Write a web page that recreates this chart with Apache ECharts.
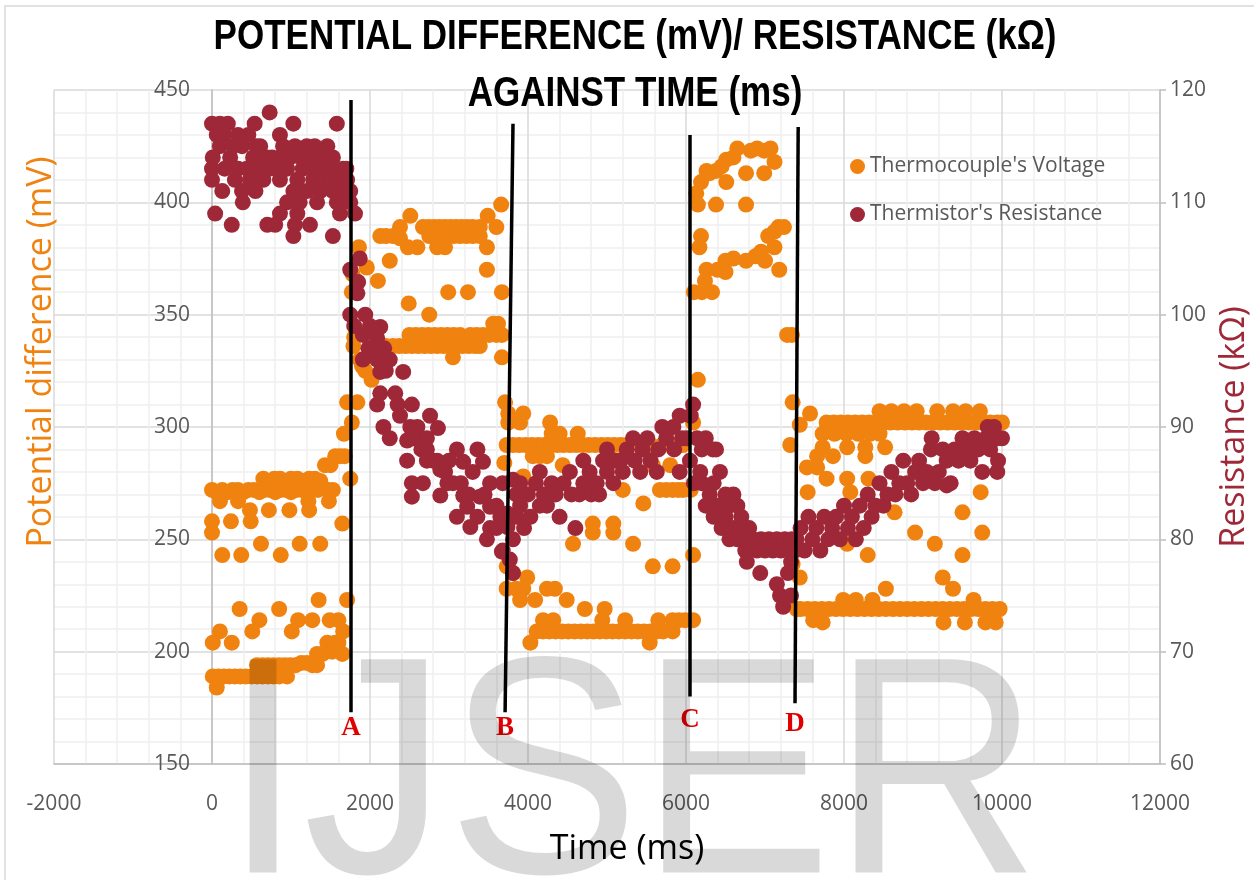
<!DOCTYPE html>
<html>
<head>
<meta charset="utf-8">
<script src="https://cdn.jsdelivr.net/npm/echarts@6.0.0/dist/echarts.min.js"></script>
<style>
  html, body { margin: 0; padding: 0; background: #fff; }
  #chart { width: 1254px; height: 880px; }
</style>
</head>
<body>
<div id="chart"></div>
<script>
// thermocouple voltage [time ms, mV]
var voltageBeforeA = [
  [0,272],[60,271],[130,272],[200,271],[260,272],[330,272],[400,271],[460,272],[530,272],[600,271],[660,272],[730,272],
  [800,271],[870,272],[940,272],[1000,271],[1070,272],[1140,272],[1200,271],[1270,272],[1340,272],[1400,273],[1470,272],[1530,272],
  [650,277],[720,276],[790,277],[860,277],[930,276],[1000,277],[1080,277],[1160,276],[1230,277],[1300,277],[1370,276],
  [1430,283],[1500,283],[1560,287],[1620,287],[1680,287],
  [100,267],[330,267],[1220,267],[1480,267],[480,263],[720,263],[980,263],[1230,263],
  [0,258],[240,258],[490,258],[1650,257],[0,253],[620,248],[1110,248],[1370,248],[130,243],[370,243],[870,243],
  [1350,223],[1710,223],[350,219],[850,219],[600,214],[1090,214],[1270,214],[1490,214],[1600,214],
  [100,209],[510,209],[1010,209],[1660,209],[10,204],[250,204],[1460,204],[1560,204],[1600,204],
  [1330,199],[1400,199],[1520,200],[1650,199],
  [570,194],[640,194],[710,194],[780,194],[850,194],[920,194],[990,194],[1060,194],[1130,195],[1200,195],[1270,194],[1330,194],
  [10,189],[80,189],[150,189],[220,189],[290,189],[360,189],[430,189],[500,189],[570,189],[640,189],[710,189],[780,189],[850,189],[950,189],
  [60,184]
];
var voltageAtoB = [
  [1670,297],[1710,311],[1770,302],[1750,277],[1770,360],[1790,336],[1780,368],[1840,311],[1870,330],[1900,327],[1860,380],
  [1960,371],[1940,325],[2020,321],[2100,365],[2250,374],[1800,340],[2000,340],[2100,338],[2200,336],
  [2130,385],[2200,385],[2290,385],[2380,384],[2380,389],[2510,394],[2480,380],[2600,380],
  [2670,389],[2740,389],[2810,389],[2880,389],[2950,389],[3020,389],[3090,389],[3160,389],[3230,389],[3300,389],[3390,389],[3600,389],
  [2750,385],[2820,385],[2900,385],[2980,385],[3060,385],[3140,385],[3220,385],[3300,385],[3390,385],
  [2850,380],[2950,380],[3480,380],[3490,394],[3660,399],[3480,370],
  [2990,360],[3240,360],[3670,360],[2490,355],[2750,350],[3560,346],[3620,346],
  [2290,336],[2370,336],[2450,336],[2530,336],[2610,336],[2690,336],[2770,336],[2850,336],[2930,336],[3010,336],[3090,336],
  [3170,336],[3250,336],[3330,336],[3390,336],
  [2500,341],[2580,341],[2660,341],[2740,341],[2820,341],[2900,341],[2980,341],[3060,341],[3140,341],[3270,341],[3350,341],
  [3430,341],[3510,341],[3600,341],[3670,341],[3050,331],[3670,331]
];
var voltageBtoC = [
  [3710,311],[3750,306],[3940,306],[3750,302],[3900,302],[4280,302],[4300,297],[4400,297],[4630,297],
  [3730,292],[3810,292],[3890,292],[3970,292],[4050,292],[4130,292],[4210,292],[4290,292],[4370,292],[4450,292],[4530,292],
  [4610,292],[4690,292],[4770,292],[4850,292],[4930,292],[5010,292],[5090,292],[5170,292],[5250,292],[5400,292],[5550,292],
  [5700,292],[5850,292],[5960,292],
  [4060,287],[4150,287],[4240,287],[3700,284],[4440,283],[5580,283],[5800,283],[3940,278],
  [5200,272],[5670,272],[5750,272],[5830,272],[5900,272],[5960,272],[6060,272],
  [5460,266],[4820,257],[5080,257],[4820,253],[5080,253],[4570,248],[5330,248],[6090,243],
  [5580,238],[5830,238],[3730,238],[3810,235],[3990,233],[3730,228],[3850,228],[3940,228],[4240,228],[4340,228],
  [3900,223],[4090,223],[4490,223],[4720,219],[4970,219],
  [4190,214],[4320,214],[4940,214],[5230,214],[5650,214],[5830,214],[5910,214],[5990,214],[6090,214],
  [4110,209],[4190,209],[4270,209],[4350,209],[4430,209],[4510,209],[4590,209],[4670,209],[4750,209],[4830,209],[4910,209],
  [4990,209],[5070,209],[5150,209],[5230,209],[5310,209],[5390,209],[5470,209],[5550,209],[5630,209],[5710,209],[5830,209],
  [4030,204],[5540,204],[6090,302],[6150,321]
];
var voltageCtoD = [
  [6130,404],[6150,399],[6190,409],[6260,414],[6300,413],[6380,414],[6450,416],[6510,419],[6600,420],[6650,424],[6820,423],
  [6900,424],[6990,423],[7070,424],[7120,418],[6510,409],[6760,413],[6990,413],[6380,399],[6760,399],
  [6190,385],[6170,380],[6260,370],[6240,365],[6100,360],[6200,360],[6330,360],[6400,370],[6500,374],[6500,369],[6600,375],
  [6760,374],[6880,376],[6950,378],[7000,374],[7040,385],[7120,387],[7170,389],[7240,389],[7120,380],[7180,370],
  [7280,341],[7340,341]
];
var voltageAfterD = [
  [7350,311],[7440,301],[7320,292],[7570,306],[7660,287],[7530,282],[7780,277],[7540,271],[7350,239],[7440,233],[7400,219],[7610,214],
  [7780,302],[7870,302],[7960,302],[8050,302],[8140,302],[8230,302],[8320,302],[8410,302],[8500,302],[8590,302],[8680,302],
  [8770,302],[8860,302],[8950,302],[9040,302],[9130,302],[9220,302],[9310,302],[9400,302],[9490,302],[9580,302],[9670,302],
  [9760,302],[9850,302],[9940,302],[10000,302],
  [8450,307],[8600,307],[8760,307],[8920,307],[9180,307],[9380,307],[9540,307],[9720,307],
  [7730,297],[7880,297],[8030,297],[8180,297],[8330,297],[8450,297],
  [7730,291],[8040,291],[8270,291],[8520,291],[7860,287],[8270,287],[7660,282],
  [8040,277],[8310,277],[9120,277],[8080,271],[9730,271],[8640,262],[9500,262],[8900,253],[9750,253],
  [8040,248],[9150,248],[8300,243],[9500,243],[9250,233],[8530,228],[9380,228],
  [7990,223],[8150,223],[8360,223],[9640,223],
  [7450,219],[7540,219],[7630,219],[7720,219],[7810,219],[7900,219],[7990,219],[8080,219],[8170,219],[8260,219],[8350,219],
  [8440,219],[8530,219],[8620,219],[8710,219],[8800,219],[8890,219],[8980,219],[9070,219],[9160,219],[9250,219],[9340,219],
  [9430,219],[9520,219],[9610,219],[9700,219],[9790,219],[9880,219],[9970,219],
  [7730,213],[9260,213],[9530,213],[9790,213],[9920,213]
];

// thermistor resistance [time ms, kΩ]
var resistanceBeforeA = [
  [0,117],[60,116],[100,117],[200,117],[540,117],[730,118],[1030,117],[1580,117],[860,116],[460,116],[150,116],[330,116],
  [100,115],[270,115],[380,115],[560,115],[610,115],[1200,115],[1300,115],[1460,115],[900,115],[1050,115],
  [10,114],[230,114],[520,114],[700,114],[760,114],[860,114],[990,114],[1250,114],[1370,114],[1420,114],[1530,114],[1120,114],
  [0,113],[160,113],[330,113],[440,113],[600,113],[730,113],[800,113],[950,113],[1150,113],[1250,113],[1370,113],[1500,113],[1660,113],[1700,113],
  [0,112],[290,112],[480,112],[650,112],[860,112],[1080,112],[1280,112],[1460,112],[1600,112],[1710,112],[560,112],
  [130,111],[380,111],[550,111],[1030,111],[1200,111],[1370,111],[1530,111],[1750,111],[1620,111],
  [390,110],[950,110],[1110,110],[1330,110],[1580,110],[1640,110],[1750,110],
  [40,109],[860,109],[1080,109],[1620,109],[1810,109],[250,108],[700,108],[800,108],[1050,108],[1240,108],[1030,107],[1530,107]
];
var resistanceAtoB = [
  [1870,105],[1750,104],[1850,102.9],[1840,101.9],[1750,100],[1940,100],[2130,98.9],[1910,98.2],[2000,99],[2090,97.9],
  [1800,99],[1980,97],[2050,98.5],[2180,97],
  [2100,96.8],[1910,96],[2090,96],[2250,96],[2200,95],[2130,94.9],[2420,94.9],[2130,93],[2320,93],[2090,92],[2350,92],
  [2530,92],[2380,91],[2760,91],[2170,90],[2510,90],[2600,90],[2860,89.9],[2250,89],[2550,89],[2720,89],[2470,88.8],
  [2650,88],[2720,88],[3100,88],[3360,88],[2470,87],[2720,87],[2800,87],[2850,87],[3000,87],[2890,86.2],[2950,86],
  [3180,86.9],[3430,86.9],[3300,86],[2530,85],[2670,85],[2980,85],[3050,85],[3150,85],[3520,85],[3680,85],[3810,85.3],
  [2530,83.8],[2890,83.9],[3180,83.9],[3250,84],[3390,83.8],[3450,84],[3600,83],[3230,82.9],[3520,82.9],[3100,82],
  [3360,82],[3650,82],[3740,82.3],[3270,81.1],[3520,81],[3600,81],[3740,81.1],[3480,80],[3810,80],[3680,79],
  [3670,78.9],[3770,78.2],[3810,77]
];
var resistanceBtoC = [
  [3850,84],[3850,82],[3900,85],[3900,83],[3950,81],[4000,84],[4030,82],[4100,85],[4150,86],[4150,83],[4200,84],[4240,83],
  [4300,85],[4350,84],[4400,82],[4450,85],[4530,86],[4550,84],[4600,81],[4650,84],[4700,87],[4700,85],[4780,86],[4800,84],
  [4870,85],[4900,84],[4950,87],[5000,88],[5000,86],[5080,85],[5100,87],[5170,87],[5200,86],[5250,88],[5330,89],[5350,87],
  [5420,86],[5450,88],[5510,89],[5550,87],[5630,86],[5650,88],[5700,90],[5750,89],[5840,90],[5850,88],[5920,91],[5920,86],
  [5950,89],[6010,89],[6050,87],[6060,91],[6090,92]
];
var resistanceCtoD = [
  [6140,89],[6200,88],[6250,89],[6340,88],[6380,88],[6430,86],[6180,86],[6300,84],[6100,85],[6200,85],[6350,85],[6500,84],
  [6250,83],[6400,83],[6550,83],[6600,84],[6650,83],[6350,82],[6500,82],[6600,81],[6700,82],[6450,81],[6700,81],[6750,80],
  [6800,81],[6550,80],[6650,80],[6850,80],[6900,79],[6950,80],[7000,79],[7050,80],[7100,79],[7150,80],[7200,79],[7250,80],
  [7300,79],[6750,79],[6770,78],[6940,77],[7150,76],[7190,75],[7230,74],[7290,77],[7330,75],[7330,78]
];
var resistanceAfterD = [
  [7340,80],[7380,79],[7400,80],[7450,81],[7500,79],[7550,82],[7600,80],[7650,81],[7700,79],[7750,82],[7800,80],[7850,81],
  [7900,82],[7950,80],[8000,83],[8050,81],[8100,82],[8150,80],[8200,83],[8250,81],[8300,84],[8350,82],[8400,83],[8450,85],
  [8500,83],[8550,84],[8600,86],[8650,84],[8700,85],[8750,87],[8800,85],[8850,84],[8900,86],[8950,87],[9000,85],[9050,86],
  [9100,88],[9110,89],[9150,85],[9200,86],[9250,88],[9300,87],[9300,84.8],[9350,85],[9400,88],[9450,87],[9500,89],[9550,88],
  [9600,87],[9650,89],[9700,88],[9750,86],[9800,89],[9820,90],[9850,88],[9900,90],[9940,89],[9940,86],[9950,87],[10000,89]
];

// the drawn-in lines A-D: [label, time top, mV top, time bottom, mV bottom]
var markers = [
  ['A', 1760, 445.5, 1760, 173],
  ['B', 3810, 435, 3710, 173],
  ['C', 6050, 430, 6050, 180],
  ['D', 7420, 433.5, 7380, 177]
];
var markerLabelGap = [2, 2, 10, 7];

var voltage = [].concat(voltageBeforeA, voltageAtoB, voltageBtoC, voltageCtoD, voltageAfterD);
var resistance = [].concat(resistanceBeforeA, resistanceAtoB, resistanceBtoC, resistanceCtoD, resistanceAfterD);

var orange = '#F0820F';
var maroon = '#9E2837';
var sans = 'Open Sans';
var gridMajor = { lineStyle: { color: '#d9d9d9', width: 1.5 } };
var gridMinor = { show: true, lineStyle: { color: '#efefef', width: 1.5 } };
var plain = function (v) { return String(v); };
var tickLabel = { fontFamily: sans, fontSize: 21, color: '#595959', formatter: plain };

var myChart = echarts.init(document.getElementById('chart'));
myChart.setOption({
  animation: false,
  backgroundColor: '#fff',
  legend: {
    orient: 'vertical',
    left: 845,
    top: 151,
    icon: 'circle',
    itemWidth: 15,
    itemHeight: 15,
    itemGap: 27,
    data: ["Thermocouple's Voltage", "Thermistor's Resistance"],
    textStyle: { fontFamily: sans, fontSize: 21, color: '#595959' }
  },
  grid: { left: 54, right: 94, top: 90, bottom: 116, outerBoundsMode: 'none' },
  xAxis: {
    type: 'value', min: -2000, max: 12000, interval: 2000,
    name: 'Time (ms)', nameLocation: 'middle', nameGap: 68,
    nameTextStyle: { fontFamily: sans, fontSize: 34, color: '#000', padding: [0, 0, 0, 40] },
    axisLine: { onZero: false, lineStyle: { color: '#bfbfbf', width: 1.5 } },
    axisTick: { show: false },
    axisLabel: Object.assign({ margin: 30, showMinLabel: true, showMaxLabel: true }, tickLabel),
    splitLine: gridMajor,
    minorTick: { show: false, splitNumber: 5 },
    minorSplitLine: gridMinor
  },
  yAxis: [{
    // Excel draws this axis at time 0, so shift it in from the plot edge
    type: 'value', min: 150, max: 450, interval: 50, position: 'left', offset: -158,
    name: 'Potential difference (mV)', nameLocation: 'middle', nameRotate: 90, nameGap: 154,
    nameTextStyle: { fontFamily: sans, fontSize: 34, color: orange, padding: [0, 0, 0, 150] },
    axisLine: { show: true, onZero: false, lineStyle: { color: '#bfbfbf', width: 1.5 } },
    axisTick: { show: false },
    axisLabel: Object.assign({ margin: 22 }, tickLabel),
    splitLine: gridMajor,
    minorTick: { show: false, splitNumber: 5 },
    minorSplitLine: gridMinor
  }, {
    type: 'value', min: 60, max: 120, interval: 10, position: 'right',
    name: 'Resistance (kΩ)', nameLocation: 'middle', nameRotate: 90, nameGap: 54,
    nameTextStyle: { fontFamily: sans, fontSize: 34, color: maroon },
    axisLine: { show: true, onZero: false, lineStyle: { color: '#bfbfbf', width: 1.5 } },
    axisTick: { show: true, length: 6, lineStyle: { color: '#bfbfbf', width: 1.5 } },
    axisLabel: Object.assign({ margin: 10 }, tickLabel),
    splitLine: { show: false }
  }],
  series: [{
    name: "Thermocouple's Voltage",
    type: 'scatter',
    yAxisIndex: 0,
    symbolSize: 16,
    itemStyle: { color: orange, opacity: 1 },
    data: voltage
  }, {
    name: "Thermistor's Resistance",
    type: 'scatter',
    yAxisIndex: 1,
    symbolSize: 16,
    itemStyle: { color: maroon, opacity: 1 },
    data: resistance
  }, {
    type: 'scatter',
    yAxisIndex: 0,
    z: 5,
    silent: true,
    data: [],
    markLine: {
      symbol: 'none',
      silent: true,
      lineStyle: { color: '#000', width: 3.5, type: 'solid' },
      label: {
        position: 'end', formatter: '{b}',
        color: '#e00000', fontFamily: 'Liberation Serif', fontWeight: 'bold', fontSize: 27
      },
      data: markers.map(function (m, i) {
        return [
          { name: m[0], coord: [m[1], m[2]], label: { distance: markerLabelGap[i] } },
          { coord: [m[3], m[4]] }
        ];
      })
    }
  }],
  graphic: [{
    type: 'rect', silent: true, z: -10,
    shape: { x: 5, y: 6, width: 1300, height: 900 },
    style: { fill: 'none', stroke: '#d9d9d9', lineWidth: 1.5 }
  }, {
    // title set in a condensed bold face (Arial bold squeezed like Calibri bold)
    type: 'text', silent: true, z: 10,
    x: 635, y: 9, scaleX: 0.834,
    style: {
      text: 'POTENTIAL DIFFERENCE (mV)/ RESISTANCE (kΩ)\nAGAINST TIME (ms)',
      fontFamily: 'Liberation Sans', fontWeight: 'bold', fontSize: 42, lineHeight: 57,
      fill: '#000', align: 'center', verticalAlign: 'top'
    }
  }, {
    type: 'text', silent: true, z: 100,
    x: 223, y: 632, scaleX: 0.93,
    style: { text: 'IJSER', fontFamily: 'Liberation Sans', fontSize: 310, fill: 'rgba(0,0,0,0.15)', verticalAlign: 'top' }
  }]
});
</script>
</body>
</html>
